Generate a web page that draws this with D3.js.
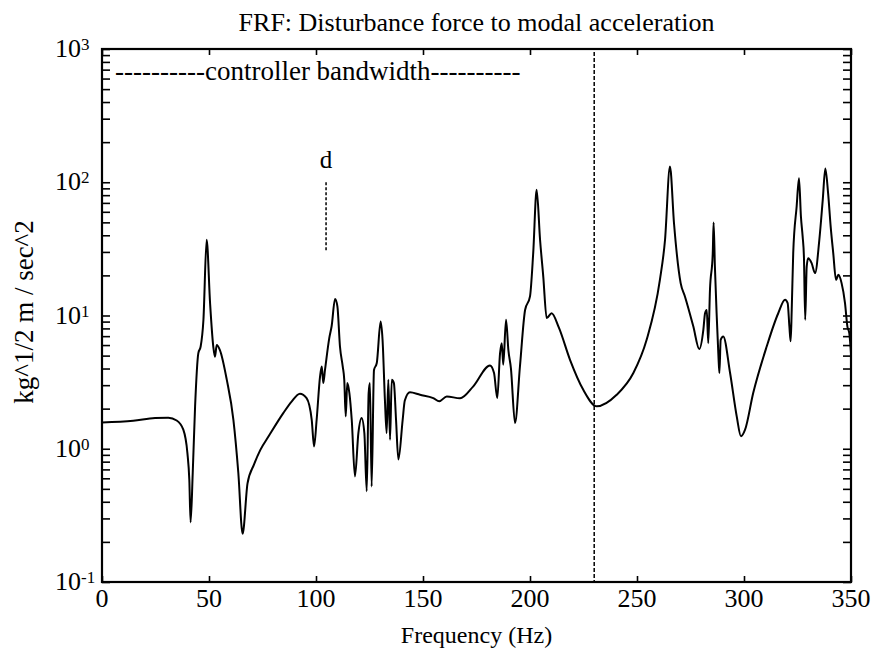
<!DOCTYPE html>
<html>
<head>
<meta charset="utf-8">
<script src="https://d3js.org/d3.v7.min.js"></script>
<style>
  body { margin: 0; background: #fff; }
  text { font-family: "Liberation Serif", "Times New Roman", serif; fill: #000; }
</style>
</head>
<body>
<script>
// FRF chart: disturbance force to modal acceleration

// frequency points (Hz)
var freq = [0, 14.6, 24.8, 31, 34.9, 38, 39.9, 40.8, 41.4, 42.4, 43.5, 45, 46.1, 47.4, 48.9,
  50.5, 52, 52.8, 53.6, 55.1, 58.3, 61.4, 63.7, 65.7, 68, 71, 74, 78, 84.7, 88.5,
  92.5, 95.6, 98, 99.1, 100.3, 101.9, 102.7, 103.4, 104.2, 106.2, 107.3, 108.9, 110, 111.2,
  112.5, 113.2, 113.9, 114.6, 115.6, 116.7, 118.2, 119.8, 121.3, 122.6, 123.7, 124.6, 125.2,
  126, 127.1, 128.4, 130.2, 131.1, 132.2, 133, 133.8, 134.6, 135.4, 136.4, 137.4, 138.5,
  140.5, 141.5, 143.9, 148.6, 154.8, 157.6, 161.1, 167.3, 173.5, 181.3, 183.2, 184.7, 186,
  186.8, 187.5, 188.8, 189.9, 191.1, 193, 195.3, 197.7, 200, 201.5, 203.1, 204.7, 206.2,
  207.8, 210.1, 213.5, 218.7, 224.9, 231.2, 240.5, 248.3, 254.5, 260.7, 263.1, 265.4, 267.3,
  270.4, 272.4, 276.3, 279.1, 281, 281.8, 282.6, 283.3, 284.1, 285.4, 285.8, 286.4, 287.2,
  288, 288.5, 289.1, 290.3, 293.5, 296.6, 298.6, 300.5, 304.3, 310.6, 316, 319.2, 320.4,
  321.2, 321.8, 322.3, 323, 324.6, 325.7, 326.6, 327.4, 328, 328.6, 329.3, 330, 331.6,
  333.2, 335.2, 336.8, 338, 339.3, 340.5, 341.7, 343, 344.1, 345.6, 347.2, 348.3, 349.2, 350];

// magnitude (kg^1/2 m / sec^2)
var mag = [1.575, 1.62, 1.70, 1.71, 1.63, 1.39, 0.93, 0.585, 0.28, 0.66, 2.08, 5.2, 5.85, 9.3, 37,
  12.4, 5.85, 4.9, 6.0, 5.5, 3.3, 1.65, 0.66, 0.23, 0.55, 0.76, 0.98, 1.25, 1.85, 2.25,
  2.59, 2.40, 1.65, 1.04, 1.65, 3.49, 4.14, 3.11, 3.9, 6.77, 8.3, 13.3, 11.7, 5.85,
  4.14, 3.3, 1.75, 3.11, 2.62, 1.65, 0.62, 1.31, 1.70, 1.31, 0.48, 2.62, 3.11,
  0.52, 3.9, 4.4, 9.0, 6.57, 2.33, 1.31, 3.3, 1.17, 3.3, 3.11, 1.65, 0.83,
  1.65, 2.3, 2.65, 2.54, 2.40, 2.27, 2.47, 2.39, 2.94, 4.22, 3.7, 2.40, 5.2,
  6.2, 4.27, 9.3, 5.5, 4.0, 1.56, 4.14, 11.0, 13.9, 29.4, 87.7, 37, 19.6,
  9.56, 10.4, 8.1, 4.65, 2.77, 2.08, 2.54, 3.7, 6.57, 18.5, 37, 131, 49,
  17.5, 13.9, 8.3, 5.6, 7.8, 10.4, 11.0, 6.2, 15.6, 29.4, 49.9, 23.3, 10.4,
  5.2, 3.7, 6.57, 6.96, 3.7, 1.75, 1.24, 1.39, 2.62, 5.85, 10.4, 13.1, 12.4,
  8.3, 6.4, 11.0, 29.4, 65.8, 107, 55.3, 39.2, 27.7, 9.3, 23.3, 26.9, 24.7,
  20.8, 37, 73.8, 127, 82.8, 46.5, 29.4, 18.5, 20.2, 17.5, 12.4, 8.3, 7.38, 5.2];

// tick values and labels
var xTicks = [0, 50, 100, 150, 200, 250, 300, 350];
var yDecades = [0.1, 1, 10, 100, 1000];
var yExponents = ["-1", "0", "1", "2", "3"];

// annotation values
var bandwidthFreq = 230;
var dFreq = 104.7;
var dRange = [30, 100];

// SVG dimension variables (plot box edges in pixels)
var w = 877, h = 665;
var pLeft = 102, pRight = 851, pTop = 49, pBottom = 582;

var svg = d3.select("body")
  .append("svg")
  .attr("width", w)
  .attr("height", h);

var x = d3.scaleLinear().domain([0, 350]).range([pLeft, pRight]);
var y = d3.scaleLog().domain([0.1, 1000]).range([pBottom, pTop]);

// minor + major ticks on the log axis
var yTickVals = [];
yDecades.forEach(function(d, i){
  if (i < yDecades.length - 1) {
    for (var k = 1; k < 10; k++) yTickVals.push(d * k);
  } else {
    yTickVals.push(d);
  }
});

// left and right inward ticks
svg.append("g")
  .attr("transform", "translate(" + pLeft + ",0)")
  .call(d3.axisRight(y).tickValues(yTickVals).tickSize(8).tickFormat(""))
  .call(function(g){ g.select(".domain").remove(); })
  .selectAll("line").attr("stroke-width", 1.6);

svg.append("g")
  .attr("transform", "translate(" + pRight + ",0)")
  .call(d3.axisLeft(y).tickValues(yTickVals).tickSize(8).tickFormat(""))
  .call(function(g){ g.select(".domain").remove(); })
  .selectAll("line").attr("stroke-width", 1.6);

// top and bottom inward ticks
svg.append("g")
  .attr("transform", "translate(0," + pBottom + ")")
  .call(d3.axisTop(x).tickValues(xTicks).tickSize(6).tickFormat(""))
  .call(function(g){ g.select(".domain").remove(); })
  .selectAll("line").attr("stroke-width", 1.6);

svg.append("g")
  .attr("transform", "translate(0," + pTop + ")")
  .call(d3.axisBottom(x).tickValues(xTicks).tickSize(6).tickFormat(""))
  .call(function(g){ g.select(".domain").remove(); })
  .selectAll("line").attr("stroke-width", 1.6);

// frame
svg.append("rect")
  .attr("x", pLeft)
  .attr("y", pTop)
  .attr("width", pRight - pLeft)
  .attr("height", pBottom - pTop)
  .attr("fill", "none")
  .attr("stroke", "#000")
  .attr("stroke-width", 2.2);

// x tick labels
svg.selectAll(".xlab")
  .data(xTicks)
  .enter()
  .append("text")
  .attr("class", "xlab")
  .attr("x", function(d){ return x(d); })
  .attr("y", 607)
  .attr("text-anchor", "middle")
  .style("font-size", "26px")
  .text(function(d){ return d; });

// y tick labels with superscript exponent
var ylab = svg.selectAll(".ylab")
  .data(yDecades)
  .enter()
  .append("text")
  .attr("class", "ylab")
  .attr("x", 55)
  .attr("y", function(d){ return y(d) + 8; })
  .style("font-size", "26px");
ylab.append("tspan").text("10");
ylab.append("tspan")
  .attr("dy", -7)
  .style("font-size", "17px")
  .text(function(d, i){ return yExponents[i]; });

// title and axis labels
svg.append("text")
  .attr("x", (pLeft + pRight) / 2)
  .attr("y", 31)
  .attr("text-anchor", "middle")
  .style("font-size", "26px")
  .text("FRF: Disturbance force to modal acceleration");

svg.append("text")
  .attr("x", (pLeft + pRight) / 2)
  .attr("y", 643)
  .attr("text-anchor", "middle")
  .style("font-size", "24px")
  .text("Frequency (Hz)");

svg.append("text")
  .attr("transform", "translate(33," + 312 + ") rotate(-90)")
  .attr("text-anchor", "middle")
  .style("font-size", "27px")
  .text("kg^1/2 m / sec^2");

// controller bandwidth annotation
svg.append("text")
  .attr("x", 115)
  .attr("y", 80)
  .style("font-size", "27px")
  .text("----------controller bandwidth----------");

svg.append("line")
  .attr("x1", x(bandwidthFreq))
  .attr("x2", x(bandwidthFreq))
  .attr("y1", pTop + 3)
  .attr("y2", pBottom)
  .attr("stroke", "#000")
  .attr("stroke-width", 1.5)
  .attr("stroke-dasharray", "4,2");

// d marker
svg.append("line")
  .attr("x1", x(dFreq))
  .attr("x2", x(dFreq))
  .attr("y1", y(dRange[1]))
  .attr("y2", y(dRange[0]))
  .attr("stroke", "#000")
  .attr("stroke-width", 1.5)
  .attr("stroke-dasharray", "3,2");

svg.append("text")
  .attr("x", x(dFreq))
  .attr("y", 168)
  .attr("text-anchor", "middle")
  .style("font-size", "25px")
  .text("d");

// the FRF curve
var line = d3.line()
  .x(function(d){ return x(d[0]); })
  .y(function(d){ return y(d[1]); })
  .curve(d3.curveMonotoneX);

svg.append("path")
  .datum(d3.zip(freq, mag))
  .attr("d", line)
  .attr("fill", "none")
  .attr("stroke", "#000")
  .attr("stroke-width", 2);
</script>
</body>
</html>
